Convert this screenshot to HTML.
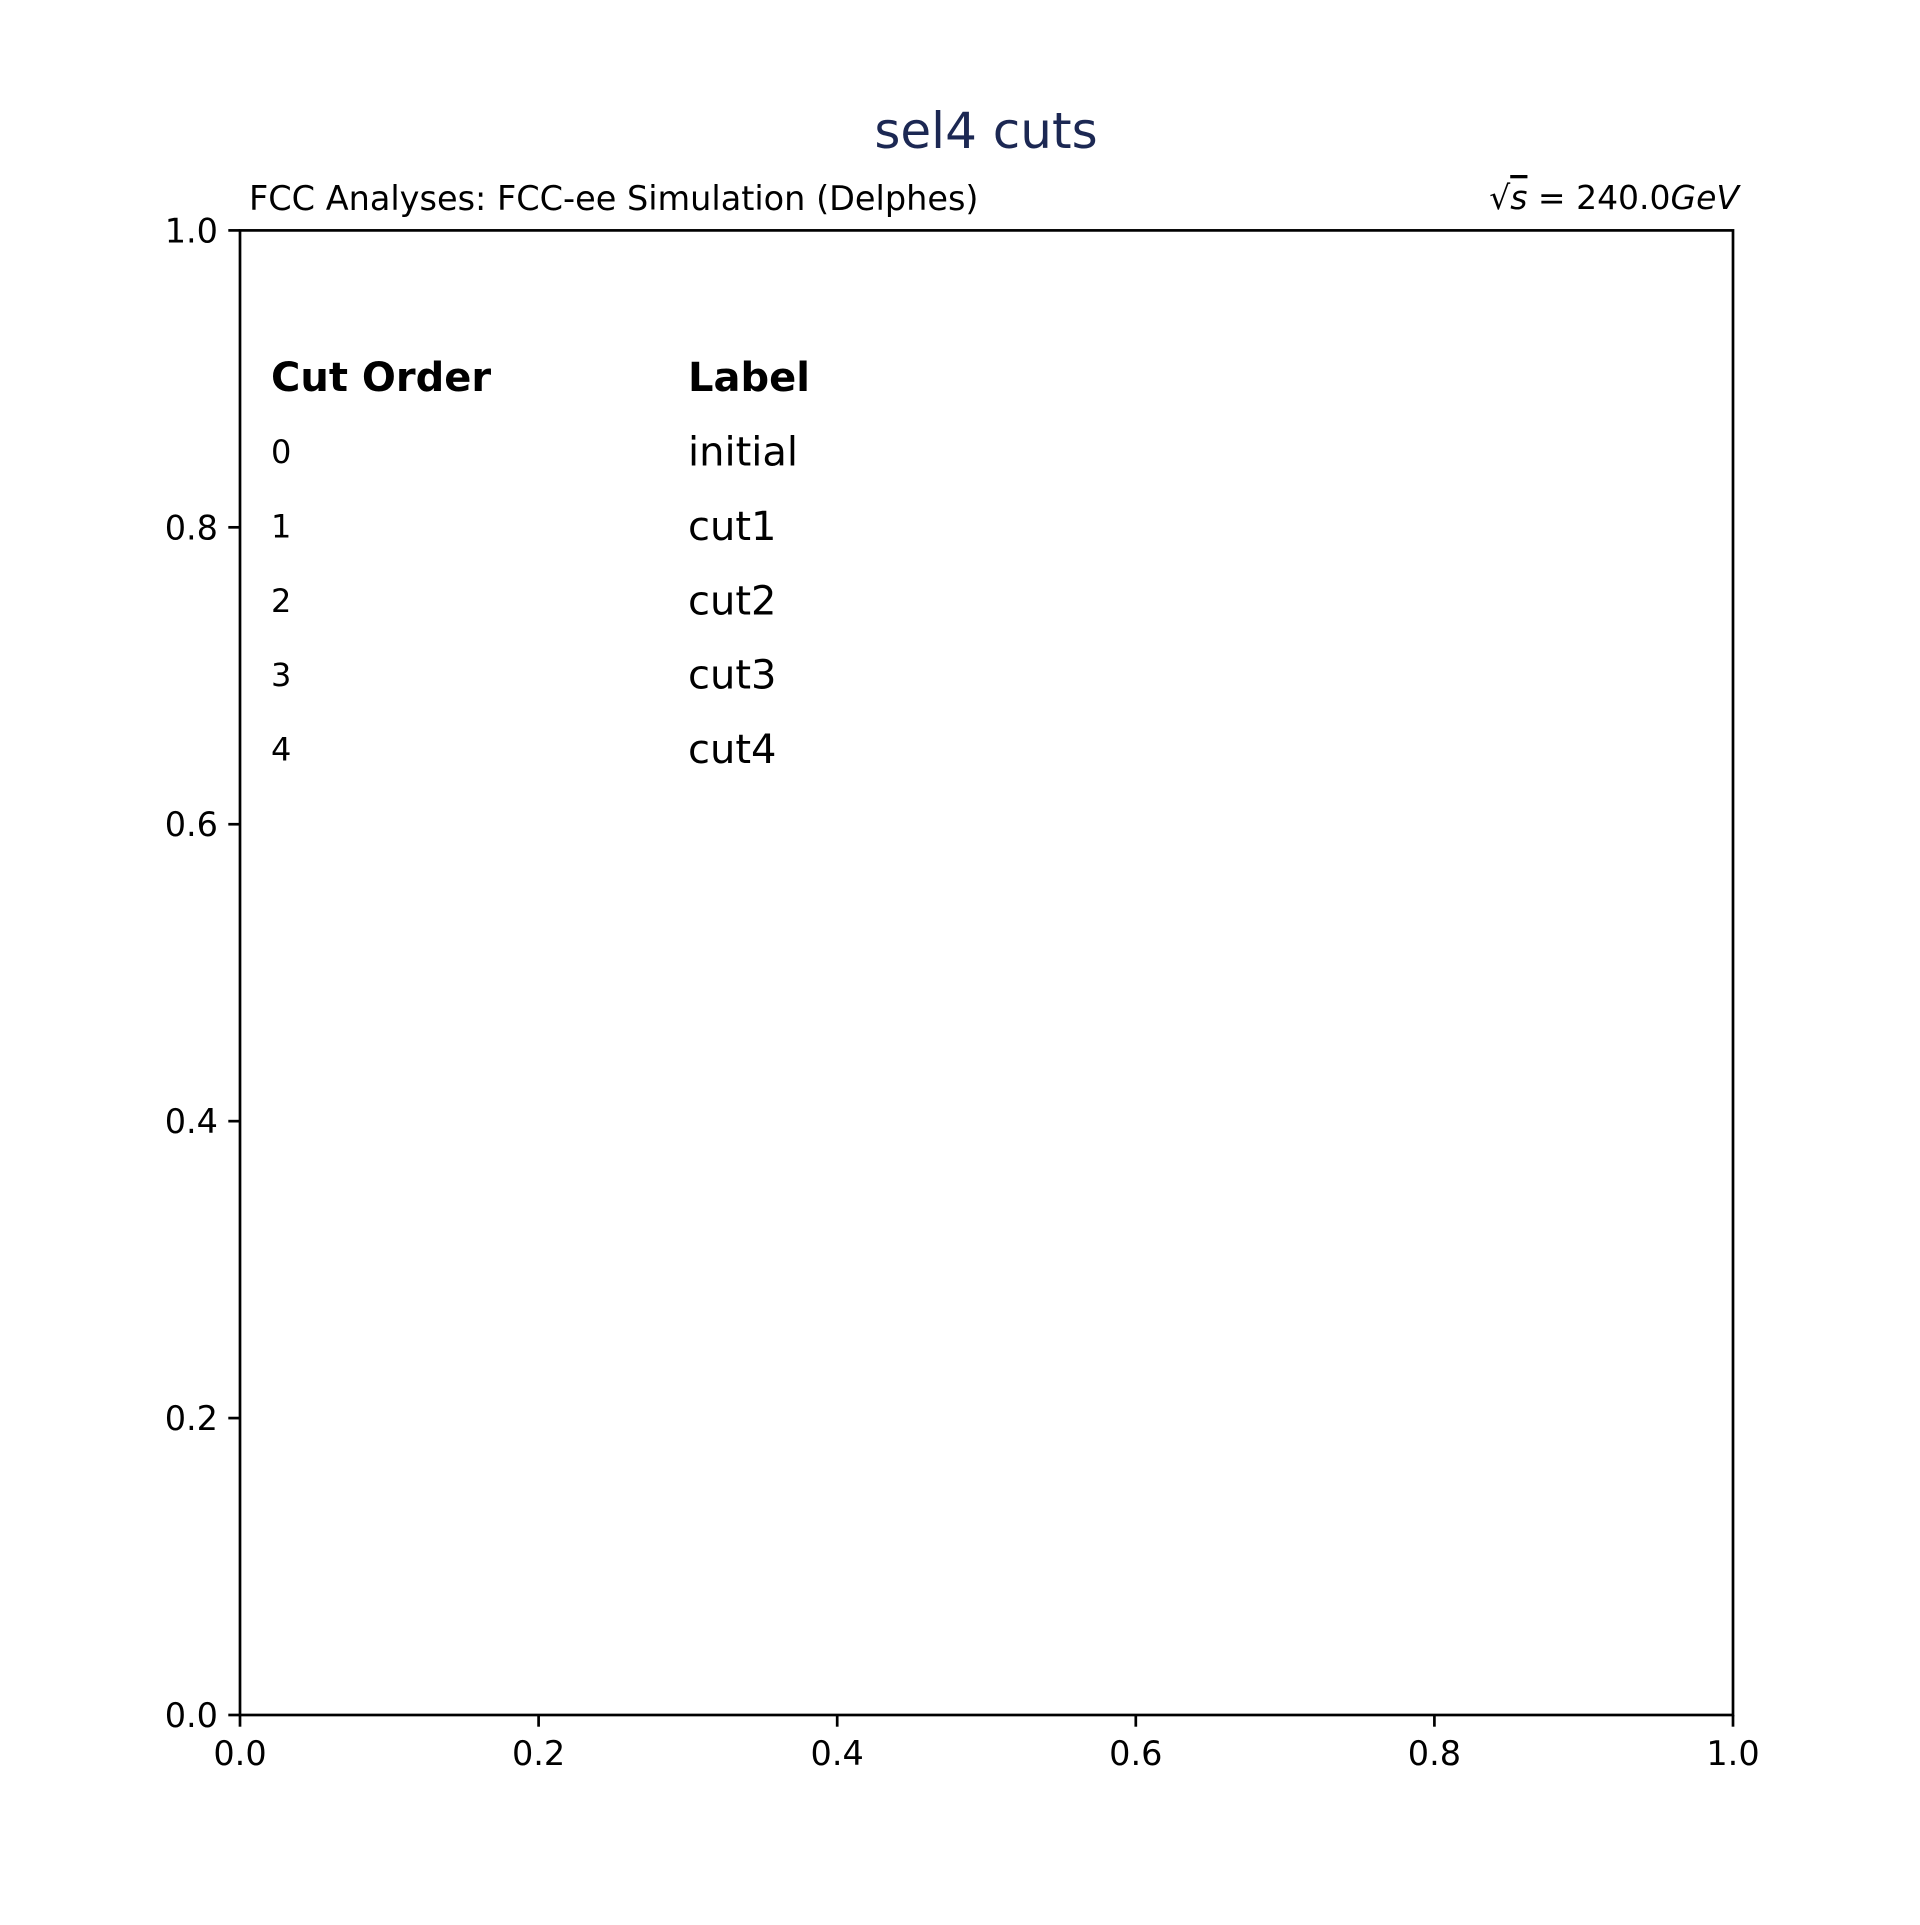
<!DOCTYPE html>
<html><head><meta charset="utf-8"><style>
body{margin:0;background:#fff}
svg text{font-family:"DejaVu Sans","Liberation Sans",sans-serif}
</style></head><body>
<svg width="1920" height="1920" viewBox="0 0 1920 1920" xmlns="http://www.w3.org/2000/svg">
<rect width="1920" height="1920" fill="#fff"/>
<text x="986" y="148" font-size="50" fill="#1c2853" text-anchor="middle">sel4 cuts</text>
<text x="249" y="210" font-size="33.5" fill="#000">FCC Analyses: FCC-ee Simulation (Delphes)</text>
<text x="1739" y="209" font-size="33" fill="#000" text-anchor="end">√<tspan font-style="italic" text-decoration="overline">s</tspan> = 240.0<tspan font-style="italic">GeV</tspan></text>
<g id="axes"></g>
<g id="table"></g>
</svg>
<script>
const xTicks=[0,0.2,0.4,0.6,0.8,1.0];
const yTicks=[0,0.2,0.4,0.6,0.8,1.0];
const cutOrders=["0","1","2","3","4"];
const cutLabels=["initial","cut1","cut2","cut3","cut4"];
const L=240,R=1733,T=230.4,B=1715;
const xs=v=>L+v*(R-L), ys=v=>B-v*(B-T);
const NS="http://www.w3.org/2000/svg";
const ax=document.getElementById('axes');
function mk(tag,attrs,parent,txt){const e=document.createElementNS(NS,tag);for(const k in attrs)e.setAttribute(k,attrs[k]);if(txt!==undefined)e.textContent=txt;parent.appendChild(e);return e;}
const frame=mk('rect',{x:L,y:T,width:R-L,height:B-T,fill:'none',stroke:'#000','stroke-width':2.7},ax);


xTicks.forEach(v=>{
  const t=mk('line',{x1:xs(v),x2:xs(v),y1:B,y2:B+11.7,stroke:'#000','stroke-width':2.7},ax);
  
  
  const l=mk('text',{x:xs(v),y:B+50,'font-size':33.5,'text-anchor':'middle'},ax,v.toFixed(1));
  
  
});
yTicks.forEach(v=>{
  const t=mk('line',{x1:L-11.7,x2:L,y1:ys(v),y2:ys(v),stroke:'#000','stroke-width':2.7},ax);
  
  
  const l=mk('text',{x:L-22,y:ys(v)+12,'font-size':33.5,'text-anchor':'end'},ax,v.toFixed(1));
  
  
});
const tb=document.getElementById('table');
const c1=mk('text',{x:271,y:391,'font-size':40,'font-weight':'bold'},tb,'Cut Order');


const c2=mk('text',{x:688,y:391,'font-size':40,'font-weight':'bold'},tb,'Label');


cutOrders.forEach((o,i)=>{
  const y=463+i*74.4;
  const a=mk('text',{x:271,y:y,'font-size':32},tb,o);
  
  
  const b=mk('text',{x:688,y:y+2.5,'font-size':40},tb,cutLabels[i]);
  
  
});
</script>
</body></html>
